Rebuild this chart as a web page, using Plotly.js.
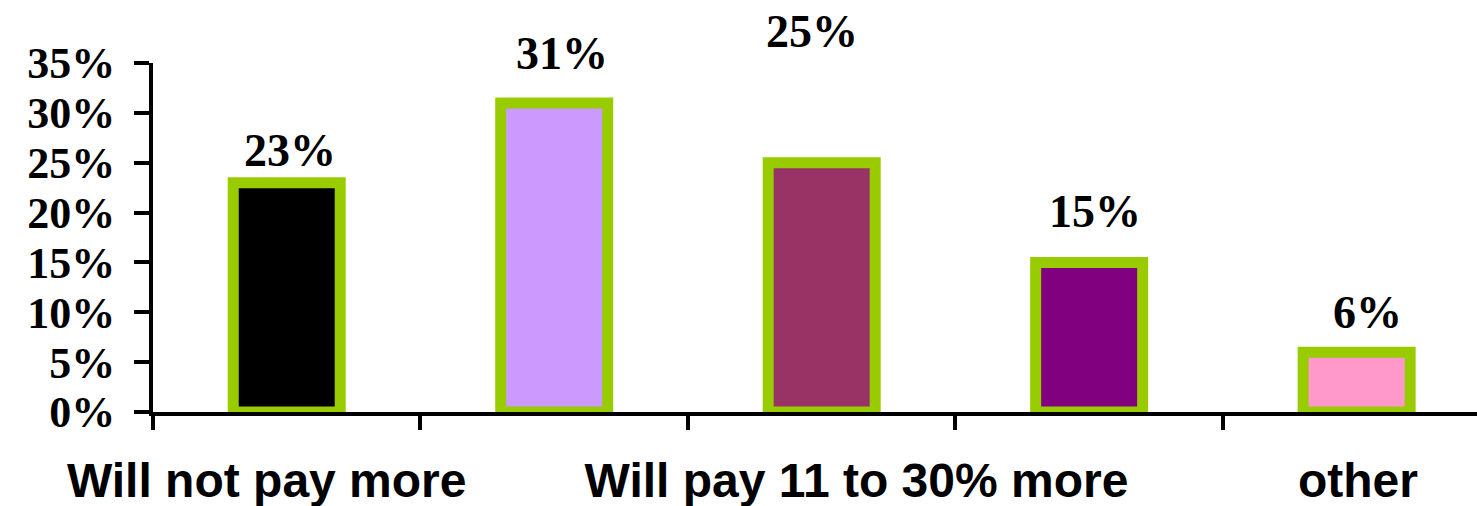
<!DOCTYPE html>
<html>
<head>
<meta charset="utf-8">
<script src="https://cdn.plot.ly/plotly-3.0.1.min.js"></script>
<style>html,body{margin:0;padding:0;overflow:hidden;background:#fff;}#chart{width:1477px;height:506px;}</style>
</head>
<body>
<div id="chart"></div>
<script>
// ---- data ----
const categoryIndex = [0, 1, 2, 3, 4];
const categoryLabels = ["Will not pay more", "", "Will pay 11 to 30% more", "", "other"];
const values = [23, 31, 25, 15, 6];
const valueLabels = ["23%", "31%", "25%", "15%", "6%"];
const barColors = ["#000000", "#CC99FF", "#993366", "#800080", "#FF99CC"];
const yTickVals = [0, 5, 10, 15, 20, 25, 30, 35];

// ---- styling/placement (offsets, not data) ----
const labelYShift = [32, 49, 131, 51, 40];
const labelXShift = [3, 8, -10, 6, 11];
const catLabelOffset = [-0.075, 0, 0.13, 0, 0.005];

const boundaryTicks = categoryIndex.map(i => i - 0.5);

const trace = {
  type: 'bar',
  x: categoryIndex,
  y: values,
  width: 0.4,
  marker: {color: barColors, line: {color: '#99CC00', width: 11}},
  hoverinfo: 'skip'
};

const annotations = values.map((v, i) => ({
  x: categoryIndex[i], y: v, xref: 'x', yref: 'y',
  text: valueLabels[i], showarrow: false,
  yanchor: 'middle', xanchor: 'center',
  yshift: labelYShift[i], xshift: labelXShift[i],
  font: {family: 'Liberation Serif', size: 46, color: '#000', weight: 'bold'}
}));

const layout = {
  width: 1477, height: 506,
  margin: {l: 153, r: 0, t: 63, b: 94},
  paper_bgcolor: '#fff', plot_bgcolor: '#fff',
  showlegend: false,
  bargap: 0,
  xaxis: {
    range: [-0.5, 4.45],
    tickmode: 'array', tickvals: boundaryTicks, ticktext: boundaryTicks.map(() => ''),
    ticks: 'outside', ticklen: 14, tickwidth: 4, tickcolor: '#000',
    showline: true, linecolor: '#000', linewidth: 4,
    showgrid: false, zeroline: false, fixedrange: true
  },
  xaxis2: {
    overlaying: 'x', side: 'bottom', matches: 'x',
    range: [-0.5, 4.45],
    tickmode: 'array',
    tickvals: categoryIndex.map((c, i) => c + catLabelOffset[i]),
    ticktext: categoryLabels,
    ticks: '', showline: false, showgrid: false, zeroline: false,
    ticklabelstandoff: 36,
    tickfont: {family: 'Liberation Sans', size: 48, color: '#000', weight: 'bold'}
  },
  yaxis: {
    range: [0, 35],
    tickmode: 'array', tickvals: yTickVals, ticktext: yTickVals.map(v => v + '%'),
    ticks: 'outside', ticklen: 15, tickwidth: 4, tickcolor: '#000',
    showline: true, linecolor: '#000', linewidth: 4,
    showgrid: false, zeroline: false,
    ticklabelstandoff: 10,
    tickfont: {family: 'Liberation Serif', size: 44, color: '#000', weight: 'bold'}
  },
  annotations: annotations
};

const dummy = {type: 'scatter', x: categoryIndex, y: values.map(() => null), xaxis: 'x2', yaxis: 'y', hoverinfo: 'skip', showlegend: false};

Plotly.newPlot('chart', [trace, dummy], layout, {displayModeBar: false, staticPlot: true});
</script>
</body>
</html>
